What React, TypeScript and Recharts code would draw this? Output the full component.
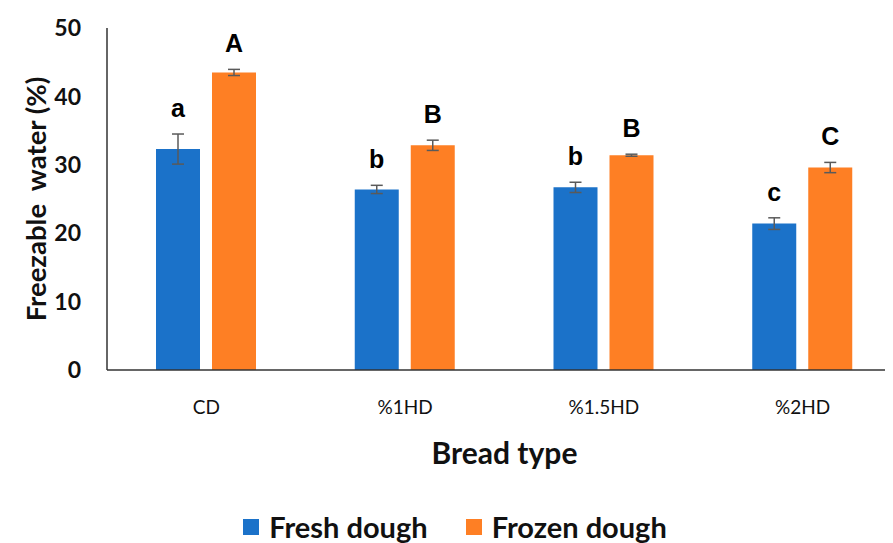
import React from 'react';
import { BarChart, Bar, XAxis, YAxis, ErrorBar, LabelList, Legend } from 'recharts';

const categories = ['CD', '%1HD', '%1.5HD', '%2HD'];
const freshValues = [32.3, 26.4, 26.7, 21.4];
const freshErrors = [2.2, 0.6, 0.75, 0.85];
const freshLetters = ['a', 'b', 'b', 'c'];
const frozenValues = [43.5, 32.85, 31.4, 29.6];
const frozenErrors = [0.45, 0.75, 0.15, 0.75];
const frozenLetters = ['A', 'B', 'B', 'C'];
const yTicks = [0, 10, 20, 30, 40, 50];

const BLUE = '#1B72C9';
const ORANGE = '#FE7F24';
const FONT = 'Lato, "Open Sans", sans-serif';

const data = categories.map((c, i) => ({
  category: c,
  fresh: freshValues[i],
  freshErr: freshErrors[i],
  freshLetter: freshLetters[i],
  frozen: frozenValues[i],
  frozenErr: frozenErrors[i],
  frozenLetter: frozenLetters[i],
}));

const makeLetter = (values: number[], errors: number[]) => (props: any) => {
  const vb = props.viewBox || {};
  const x = Number(props.x ?? vb.x);
  const y = Number(props.y ?? vb.y);
  const width = Number(props.width ?? vb.width);
  const height = Number(props.height ?? vb.height);
  const idx = props.index;
  const px = height / values[idx];
  const top = y - errors[idx] * px;
  return (
    <text
      x={x + width / 2}
      y={top - 17}
      textAnchor="middle"
      fontFamily='"Liberation Sans", Arial, sans-serif'
      fontWeight="bold"
      fontSize={25}
      fill="#000"
    >
      {props.value}
    </text>
  );
};

const YLabel = (props: any) => {
  const vb = props.viewBox || {};
  const cx = 27;
  const cy = vb.y + vb.height / 2;
  return (
    <text
      x={cx}
      y={cy}
      transform={`rotate(-90, ${cx}, ${cy})`}
      textAnchor="middle"
      dominantBaseline="central"
      fontFamily={FONT}
      fontWeight="bold"
      fontSize={27.5}
      fill="#111"
      style={{ whiteSpace: 'pre' }}
    >
      {'Freezable  water (%)'}
    </text>
  );
};

const XLabel = (props: any) => {
  const vb = props.viewBox || {};
  const cx = vb.x + vb.width / 2;
  return (
    <text
      x={cx}
      y={vb.y + 82}
      textAnchor="middle"
      dominantBaseline="central"
      fontFamily={FONT}
      fontWeight="bold"
      fontSize={30}
      fill="#111"
    >
      Bread type
    </text>
  );
};

const LegendContent = () => (
  <div
    style={{
      height: 55,
      display: 'flex',
      justifyContent: 'center',
      alignItems: 'flex-start',
      paddingTop: 27,
      boxSizing: 'border-box',
      fontFamily: FONT,
      fontWeight: 'bold',
      fontSize: 29,
      color: '#111',
    }}
  >
    <div style={{ display: 'flex', alignItems: 'center', marginRight: 38, lineHeight: '30px' }}>
      <span style={{ width: 16, height: 16, background: BLUE, display: 'inline-block', marginRight: 10 }} />
      Fresh dough
    </div>
    <div style={{ display: 'flex', alignItems: 'center', lineHeight: '30px' }}>
      <span style={{ width: 16, height: 16, background: ORANGE, display: 'inline-block', marginRight: 10 }} />
      Frozen dough
    </div>
  </div>
);

export default function App() {
  return (
    <div style={{ width: 885, height: 535, overflow: 'hidden', position: 'relative' }}>
      <BarChart
        width={894}
        height={532}
        data={data}
        margin={{ top: 20, right: 0, bottom: 0, left: 0 }}
        barSize={44}
        barGap={12}
      >
        <XAxis
          dataKey="category"
          height={115}
          tickLine={false}
          tickSize={0}
          tickMargin={31}
          axisLine={{ stroke: '#333', strokeWidth: 1.5 }}
          tick={{ fontFamily: FONT, fontSize: 19, fill: '#111' }}
          label={<XLabel />}
        />
        <YAxis
          width={99}
          domain={[0, 50]}
          ticks={yTicks}
          tickLine={false}
          tickSize={0}
          tickMargin={26}
          axisLine={{ stroke: '#333', strokeWidth: 1.5 }}
          tick={{ fontFamily: FONT, fontSize: 23, fontWeight: 'bold', fill: '#111' }}
          label={<YLabel />}
        />
        <Legend verticalAlign="bottom" content={<LegendContent />} />
        <Bar dataKey="fresh" name="Fresh dough" fill={BLUE} isAnimationActive={false}>
          <ErrorBar dataKey="freshErr" width={6} stroke="#5a5a5a" strokeWidth={1.5} />
          <LabelList dataKey="freshLetter" content={makeLetter(freshValues, freshErrors)} />
        </Bar>
        <Bar dataKey="frozen" name="Frozen dough" fill={ORANGE} isAnimationActive={false}>
          <ErrorBar dataKey="frozenErr" width={6} stroke="#5a5a5a" strokeWidth={1.5} />
          <LabelList dataKey="frozenLetter" content={makeLetter(frozenValues, frozenErrors)} />
        </Bar>
      </BarChart>
    </div>
  );
}
